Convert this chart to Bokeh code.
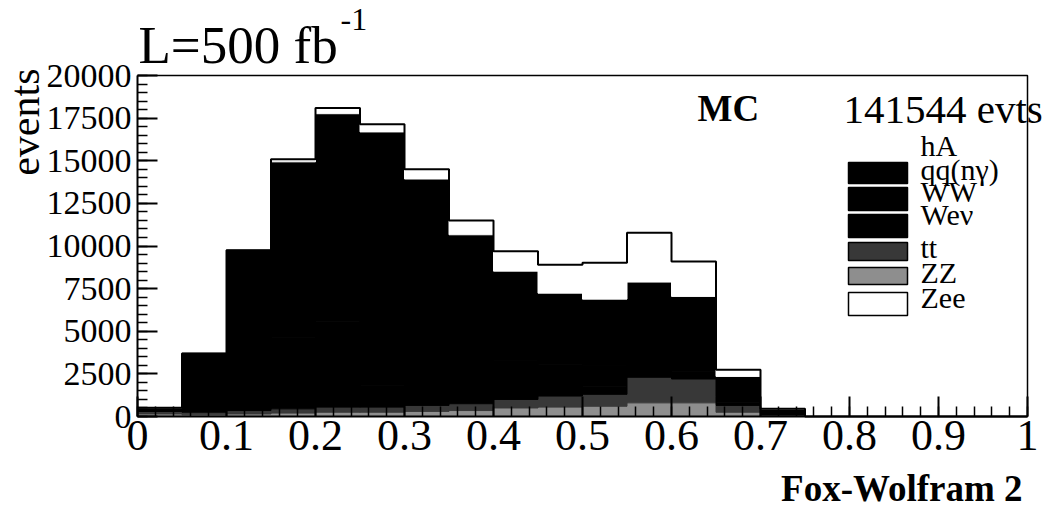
import numpy as np
from bokeh.plotting import figure
from bokeh.models import ColumnDataSource, Range1d, FixedTicker, Label, LinearAxis
from bokeh.embed import file_html
from bokeh.resources import INLINE

# Fox-Wolfram 2 histogram, 20 bins of width 0.05, stacked by process
bin_left = [0.00, 0.05, 0.10, 0.15, 0.20, 0.25, 0.30, 0.35, 0.40, 0.45,
            0.50, 0.55, 0.60, 0.65, 0.70, 0.75, 0.80, 0.85, 0.90, 0.95]
bin_width = 0.05

zz  = [150, 100, 150, 200, 250, 250, 300, 350, 500, 550, 600, 800, 800, 250, 50, 0, 0, 0, 0, 0]
tt  = [150, 150, 200, 250, 300, 300, 350, 400, 500, 650, 700, 1500, 1400, 400, 50, 0, 0, 0, 0, 0]
wev = [20, 250, 700, 1100, 1300, 1250, 1050, 800, 620, 500, 480, 480, 420, 150, 30, 0, 0, 0, 0, 0]
ww  = [50, 700, 2000, 3100, 3700, 3480, 2870, 2150, 1650, 1330, 1200, 1200, 1040, 370, 80, 0, 0, 0, 0, 0]
qq  = [150, 2500, 6700, 10280, 12200, 11400, 9350, 6950, 5250, 4200, 3900, 3900, 3380, 1180, 240, 0, 0, 0, 0, 0]
ha  = [0, 1, 3, 6, 9, 10, 9, 8, 6, 5, 4, 4, 3, 1, 0, 0, 0, 0, 0, 0]
zee = [0, 0, 0, 150, 330, 450, 570, 840, 1170, 1660, 2130, 2900, 2050, 390, 0, 0, 0, 0, 0, 0]

y_ticks = [0, 2500, 5000, 7500, 10000, 12500, 15000, 17500, 20000]
x_ticks = [0, 0.1, 0.2, 0.3, 0.4, 0.5, 0.6, 0.7, 0.8, 0.9, 1.0]
x_tick_labels = ["0", "0.1", "0.2", "0.3", "0.4", "0.5", "0.6", "0.7", "0.8", "0.9", "1"]

ZZ_COL, TT_COL = "#8e8e8e", "#383838"

# stacking order, bottom to top
layers = [
    ("ZZ", zz, ZZ_COL),
    ("tt", tt, TT_COL),
    ("Weν", wev, "#000000"),
    ("WW", ww, "#000000"),
    ("qq(nγ)", qq, "#000000"),
    ("hA", ha, "#000000"),
    ("Zee", zee, "#ffffff"),
]

W, H = 1053, 508
FL, FR, FT, FB = 137, 1027, 75, 416   # axes box in page pixels
XMAX, YMAX = 1.0, 20000.0


def px_x(px):
    return (px - FL) / (FR - FL) * XMAX


def px_y(py):
    return (FB - py) / (FB - FT) * YMAX


# the drawing area spans the whole page; the axes sit at x=0 / y=0
p = figure(width=W, height=H, output_backend="svg", toolbar_location=None,
           x_range=Range1d(px_x(0), px_x(W)), y_range=Range1d(px_y(H), px_y(0)),
           x_axis_location=None, y_axis_location=None,
           min_border=0, min_border_left=0, min_border_right=0,
           min_border_top=0, min_border_bottom=0)
p.grid.visible = False
p.outline_line_color = None
p.background_fill_color = "white"
p.border_fill_color = "white"

left = np.array(bin_left)
right = left + bin_width
base = np.zeros(len(left))
for name, vals, color in layers:
    top = base + np.array(vals, dtype=float)
    src = ColumnDataSource(dict(left=left, right=right, bottom=base, top=top))
    p.quad(left="left", right="right", bottom="bottom", top="top", source=src,
           fill_color=color, line_color=color, line_width=1)
    base = top

# outline of the full stack
edges = list(left) + [XMAX]
tot = list(base) + [base[-1]]
p.step(x=edges, y=tot, mode="after", line_color="black", line_width=2)

# box: top and right sides
p.line(x=[0, XMAX, XMAX], y=[YMAX, YMAX, 0], line_color="black", line_width=1.5)

serif = "Liberation Serif"

xa = LinearAxis(fixed_location=0, bounds=(0, XMAX))
xa.ticker = FixedTicker(ticks=x_ticks,
                        minor_ticks=[round(i * 0.02, 2) for i in range(51)])
xa.major_label_overrides = {t: l for t, l in zip(x_ticks, x_tick_labels)}
ya = LinearAxis(fixed_location=0, bounds=(0, YMAX))
ya.ticker = FixedTicker(ticks=y_ticks, minor_ticks=list(range(0, 20001, 500)))
for ax in (xa, ya):
    ax.axis_line_color = "black"
    ax.axis_line_width = 2
    ax.major_tick_in = 20
    ax.major_tick_out = 0
    ax.minor_tick_in = 10
    ax.minor_tick_out = 0
    ax.major_tick_line_width = 2
    ax.minor_tick_line_width = 1.5
    ax.major_label_text_font = serif
    ax.major_label_text_color = "black"
xa.major_label_text_font_size = "44px"
xa.major_label_standoff = 4
ya.major_label_text_font_size = "34px"
ya.major_label_standoff = 6
p.add_layout(xa, "below")
p.add_layout(ya, "left")


def put(text, px, py, size, align="left", style="normal", angle=0.0):
    # (px, py) is the vertical middle of the text line
    p.add_layout(Label(x=px_x(px), y=px_y(py), text=text, text_font=serif,
                       text_font_size=f"{size}px", text_font_style=style,
                       text_align=align, text_baseline="middle", angle=angle,
                       text_color="black"))


# titles and annotations
put("L=500 fb", 138, 44, 53)
put("-1", 340, 19, 32)
put("events", 24, 68, 42, align="right", angle=np.pi / 2)
put("Fox-Wolfram 2", 1022, 488, 37, align="right", style="bold")
put("MC", 697, 108, 37, style="bold")
put("141544 evts", 843, 108, 41)

# legend
leg_x0, leg_x1, leg_tx = 848, 907, 920
legend_rows = [
    ("hA", None, 145),
    ("qq(nγ)", (162, 183, "#000000"), 169),
    ("WW", (187, 210, "#000000"), 191),
    ("Weν", (214, 237, "#000000"), 214),
    ("tt", (242, 260, TT_COL), 247),
    ("ZZ", (267, 284, ZZ_COL), 272),
    ("Zee", (292, 315, "#ffffff"), 297),
]
for label, box, ty in legend_rows:
    if box is not None:
        y0, y1, col = box
        p.quad(left=[px_x(leg_x0)], right=[px_x(leg_x1)], top=[px_y(y0)], bottom=[px_y(y1)],
               fill_color=col, line_color="black", line_width=1.5)
    put(label, leg_tx, ty, 30)

open("out.html", "w").write(file_html(p, INLINE))
